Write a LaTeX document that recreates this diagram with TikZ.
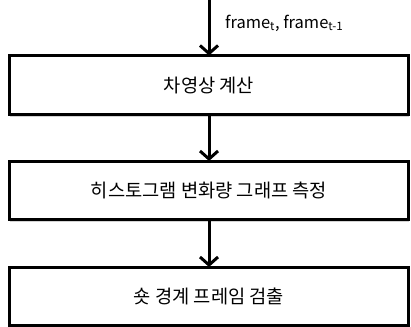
\documentclass[tikz,border=0pt]{standalone}
\usepackage{fontspec}
\setmainfont{Noto Sans CJK KR}
\usetikzlibrary{arrows.meta,shadows}
\begin{document}
\begin{tikzpicture}[x=1pt,y=-1pt,
  stepbox/.style={draw=black, line width=3pt, fill=white, minimum width=399pt, minimum height=58pt,
    inner sep=0pt, font=\fontsize{18.7pt}{21pt}\selectfont,
    drop shadow={shadow xshift=0pt, shadow yshift=-2.5pt, opacity=0.35, fill=gray}},
  flow/.style={line width=3pt, -{Straight Barb[length=8pt,width=18pt,line width=3pt]}, shorten >=-1pt}]
\useasboundingbox (0,0) rectangle (411,326);
\coordinate (top) at (209,-2);
\node[stepbox] (b1) at (209,85) {차영상 계산};
\node[stepbox] (b2) at (209,190.5) {히스토그램 변화량 그래프 측정};
\node[stepbox] (b3) at (209,296.5) {숏 경계 프레임 검출};
\draw[flow] (top) -- (b1.north);
\draw[flow] (b1.south) -- (b2.north);
\draw[flow] (b2.south) -- (b3.north);
\node[anchor=west, font=\fontsize{16.5pt}{18pt}\selectfont, inner sep=0pt] (lab) at (225,23)
  {frame\textsubscript{t}, frame\textsubscript{t-1}};
\end{tikzpicture}
\end{document}
